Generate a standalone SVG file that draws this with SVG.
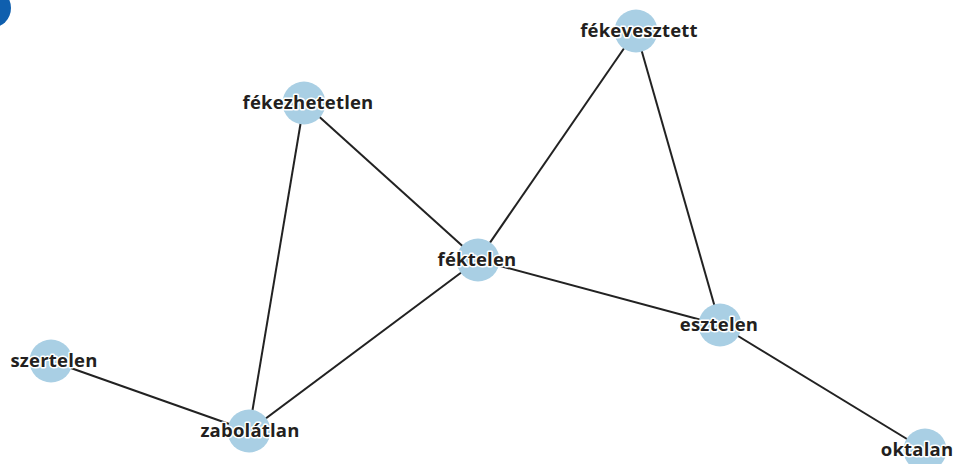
<svg xmlns="http://www.w3.org/2000/svg" width="960" height="464" viewBox="0 0 960 464">
<style>
.edge{stroke:#222;stroke-width:2;fill:none}
.node circle{fill:#a9cfe4}
.node text{font-family:"Open Sans","Noto Sans",sans-serif;font-weight:bold;font-size:18.5px;letter-spacing:0.2px;fill:#231f20;text-anchor:middle;stroke:#fff;stroke-width:3px;paint-order:stroke;stroke-linejoin:round}
</style>
<rect width="960" height="464" fill="#fff"/>
<circle cx="-9" cy="8" r="20" fill="#0f5fae"/>
<g id="edges">
<line class="edge" x1="304" y1="103" x2="478" y2="260"/>
<line class="edge" x1="304" y1="103" x2="249" y2="431"/>
<line class="edge" x1="636" y1="31" x2="478" y2="260"/>
<line class="edge" x1="636" y1="31" x2="720" y2="325"/>
<line class="edge" x1="478" y1="260" x2="720" y2="325"/>
<line class="edge" x1="478" y1="260" x2="249" y2="431"/>
<line class="edge" x1="51" y1="361" x2="249" y2="431"/>
<line class="edge" x1="720" y1="325" x2="925" y2="450"/>
</g>
<g id="n-fekezhetetlen" class="node"><circle cx="304" cy="103" r="21.5"/><text x="308" y="109">fékezhetetlen</text></g>
<g id="n-fekevesztett" class="node"><circle cx="636" cy="31" r="21.5"/><text x="639" y="37">fékevesztett</text></g>
<g id="n-fektelen" class="node"><circle cx="478" cy="260" r="21.5"/><text x="477" y="266">féktelen</text></g>
<g id="n-esztelen" class="node"><circle cx="720" cy="325" r="21.5"/><text x="719" y="331">esztelen</text></g>
<g id="n-szertelen" class="node"><circle cx="51" cy="361" r="21.5"/><text x="54" y="367">szertelen</text></g>
<g id="n-zabolatlan" class="node"><circle cx="249" cy="431" r="21.5"/><text x="250" y="437">zabolátlan</text></g>
<g id="n-oktalan" class="node"><circle cx="925" cy="450" r="21.5"/><text x="917" y="456">oktalan</text></g>
</svg>
